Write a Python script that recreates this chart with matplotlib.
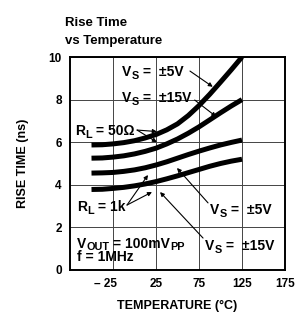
import matplotlib
matplotlib.use("Agg")
import matplotlib.pyplot as plt
from matplotlib.transforms import ScaledTranslation, Affine2D

# ---- data ----
temps = [-50, -37.5, -25, -12.5, 0, 12.5, 25, 37.5, 50, 62.5, 75, 87.5, 100, 112.5, 125]
rl50_vs5 = [5.87, 5.88, 5.92, 5.98, 6.07, 6.2, 6.36, 6.58, 6.86, 7.25, 7.72, 8.25, 8.82, 9.4, 10.0]
rl50_vs15 = [5.25, 5.26, 5.3, 5.36, 5.45, 5.57, 5.72, 5.92, 6.15, 6.42, 6.72, 7.05, 7.38, 7.7, 8.0]
rl1k_vs5 = [4.55, 4.56, 4.58, 4.63, 4.7, 4.8, 4.93, 5.08, 5.25, 5.42, 5.58, 5.73, 5.87, 5.99, 6.1]
rl1k_vs15 = [3.78, 3.79, 3.83, 3.88, 3.95, 4.04, 4.15, 4.28, 4.42, 4.57, 4.72, 4.87, 5.0, 5.11, 5.2]
series = [rl50_vs5, rl50_vs15, rl1k_vs5, rl1k_vs15]

x_ticks = [-25, 25, 75, 125, 175]
x_tick_labels = ["\u2013 25", "25", "75", "125", "175"]
y_ticks = [0, 2, 4, 6, 8, 10]

plt.rcParams["font.family"] = ["Liberation Sans", "DejaVu Sans"]
plt.rcParams["font.weight"] = "bold"

fig = plt.figure(figsize=(2.97, 3.16), dpi=100)
ax = fig.add_axes([70 / 297, 46 / 316, 215 / 297, 213 / 316])

ax.set_xlim(-75, 175)
ax.set_ylim(0, 10)

for s in series:
    ax.plot(temps, s, color="black", lw=3.6, solid_capstyle="butt", zorder=3)

ax.set_xticks(x_ticks)
ax.set_xticklabels(x_tick_labels, fontsize=8.5, fontweight="bold")
ax.set_yticks(y_ticks)
ax.set_yticklabels([str(v) for v in y_ticks], fontsize=8.5, fontweight="bold")
ax.tick_params(length=0, pad=6)
lbl0 = ax.get_xticklabels()[0]
lbl0.set_transform(lbl0.get_transform() + ScaledTranslation(-0.07, 0, fig.dpi_scale_trans))

ax.grid(True, color="#444444", lw=0.7, zorder=1)
for sp in ax.spines.values():
    sp.set_linewidth(1.4)

ax.set_xlabel("TEMPERATURE (\u00b0C)", fontsize=9, fontweight="bold", labelpad=7)
ax.set_ylabel("RISE TIME (ns)", fontsize=9, fontweight="bold", labelpad=14)

fig.text(65 / 297, 1 - 23 / 316, "Rise Time", fontsize=9.5, fontweight="bold", va="center", ha="left")
fig.text(65 / 297, 1 - 41 / 316, "vs Temperature", fontsize=9.5, fontweight="bold", va="center", ha="left")

renderer = fig.canvas.get_renderer()
FS = 10


def rich(x, y, parts, fs=FS):
    """Draw text pieces one after another; each piece is (text, size scale, y shift in em)."""
    xoff = 0.0
    for s, sc, dy in parts:
        tr = ax.transData + Affine2D().translate(xoff, dy * fs * fig.dpi / 72.0)
        t = ax.text(x, y, s, fontsize=fs * sc, fontweight="bold", va="baseline",
                    ha="left", transform=tr, zorder=4)
        t.draw(renderer)
        xoff += t.get_window_extent(renderer).width


SUB = 0.78
DY = -0.22
arrow = dict(arrowstyle="-|>", lw=0.8, color="black", mutation_scale=6, shrinkA=0, shrinkB=0)

rich(-14.5, 9.09, [("V", 1, 0), ("S", SUB, DY), (" =  \u00b15V", 1, 0)])
ax.annotate("", xy=(91, 8.6), xytext=(64.5, 9.34), arrowprops=arrow)

rich(-14.5, 7.91, [("V", 1, 0), ("S", SUB, DY), (" =  \u00b115V", 1, 0)])
ax.annotate("", xy=(95, 7.2), xytext=(70, 7.98), arrowprops=arrow)

rich(-69, 6.36, [("R", 1, 0), ("L", SUB, DY), (" = 50\u03a9", 1, 0)])
ax.annotate("", xy=(26, 6.5), xytext=(3, 6.57), arrowprops=arrow)
ax.annotate("", xy=(26, 6.0), xytext=(3, 6.57), arrowprops=arrow)

rich(-67, 2.75, [("R", 1, 0), ("L", SUB, DY), (" = 1k", 1, 0)])
ax.annotate("", xy=(15.7, 4.46), xytext=(-8.7, 3.05), arrowprops=arrow)
ax.annotate("", xy=(20.3, 3.66), xytext=(-8.7, 3.05), arrowprops=arrow)

rich(88, 2.65, [("V", 1, 0), ("S", SUB, DY), (" =  \u00b15V", 1, 0)])
ax.annotate("", xy=(49.4, 4.79), xytext=(85.5, 3.15), arrowprops=arrow)

rich(82, 0.92, [("V", 1, 0), ("S", SUB, DY), (" =  \u00b115V", 1, 0)])
ax.annotate("", xy=(29.7, 3.66), xytext=(79.7, 1.5), arrowprops=arrow)

rich(-67, 1.01, [("V", 1, 0), ("OUT", SUB, -0.1), (" = 100mV", 1, 0), ("PP", SUB, -0.1)])
rich(-67, 0.40, [("f = 1MHz", 1, 0)])

fig.savefig("out.png", dpi=100)
